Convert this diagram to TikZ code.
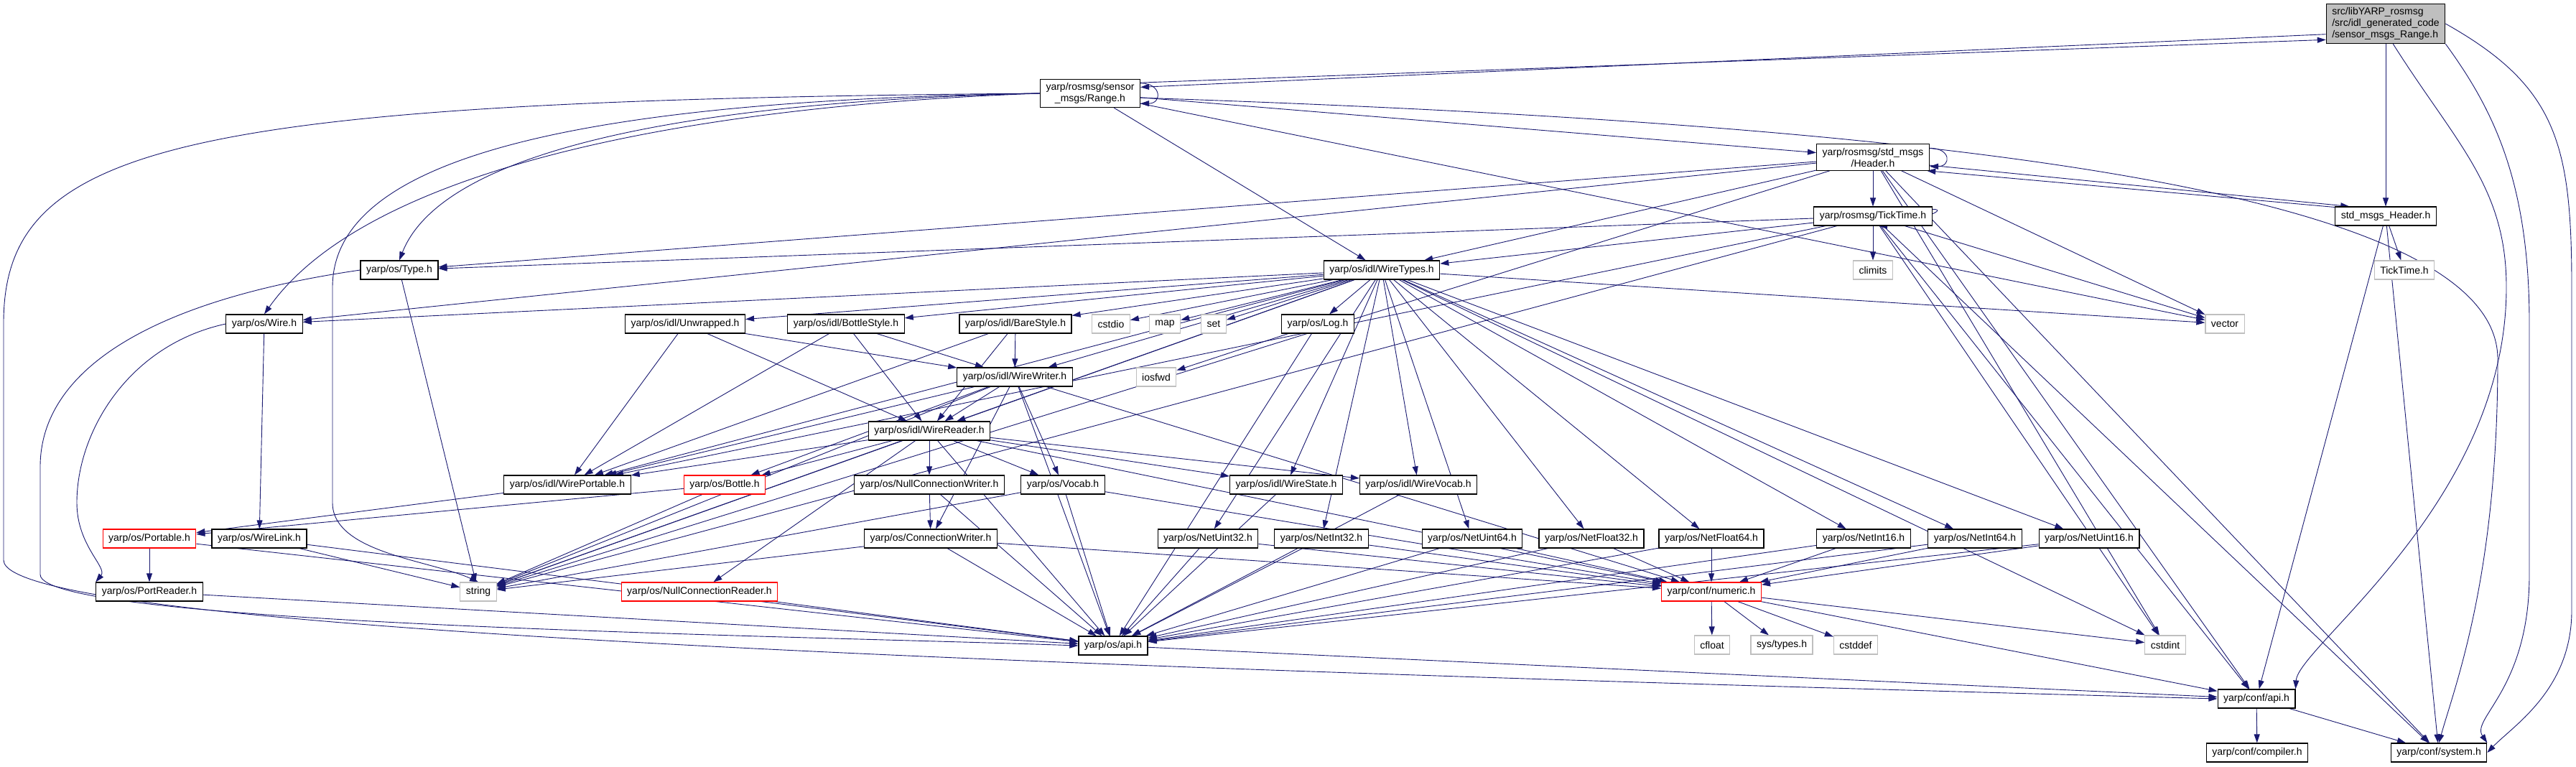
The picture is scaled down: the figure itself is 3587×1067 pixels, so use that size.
\documentclass[tikz,border=0pt]{standalone}
\usepackage{fontspec}
\setmainfont{Liberation Sans}
\usetikzlibrary{arrows.meta,backgrounds}
\definecolor{depblue}{HTML}{191970}
\definecolor{sysgray}{HTML}{BFBFBF}
\tikzset{
  file/.style={draw=black, fill=white, line width=0.6pt, inner xsep=4pt, inner ysep=2.5pt,
    minimum height=13pt, font=\fontsize{7}{8}\selectfont, align=center},
  sysfile/.style={file, draw=sysgray},
  cutfile/.style={file, draw=red},
  mainfile/.style={file, fill=sysgray, align=left},
  dep/.style={depblue, line width=0.45pt, -{Triangle[length=6pt,width=4pt]}},
}
\begin{document}
\begin{tikzpicture}[x=0.5pt, y=-0.5pt]
\useasboundingbox (0,0) rectangle (3587,1067);
% Files of the include graph
\node[mainfile] (main) at (3322,33) {src/libYARP\_rosmsg\\/src/idl\_generated\_code\\/sensor\_msgs\_Range.h};
\node[file] (range) at (1518,130) {yarp/rosmsg/sensor\\\_msgs/Range.h};
\node[file] (header) at (2608,219) {yarp/rosmsg/std\_msgs\\/Header.h};
\node[file] (ticktime) at (2608,301) {yarp/rosmsg/TickTime.h};
\node[file] (stdheader) at (3322,301) {std\_msgs\_Header.h};
\node[sysfile] (climits) at (2608,376) {climits};
\node[sysfile] (tickh) at (3348,376) {TickTime.h};
\node[file] (type) at (556,376) {yarp/os/Type.h};
\node[file] (wiretypes) at (1924,376) {yarp/os/idl/WireTypes.h};
\node[file] (wire) at (368,451) {yarp/os/Wire.h};
\node[file] (unwrapped) at (954,451) {yarp/os/idl/Unwrapped.h};
\node[file] (bottlestyle) at (1178,451) {yarp/os/idl/BottleStyle.h};
\node[file] (barestyle) at (1414,451) {yarp/os/idl/BareStyle.h};
\node[sysfile] (cstdio) at (1547,451) {cstdio};
\node[sysfile] (map) at (1622,451) {map};
\node[sysfile] (set) at (1690,451) {set};
\node[file] (log) at (1835,451) {yarp/os/Log.h};
\node[sysfile] (vector) at (3098,451) {vector};
\node[file] (writer) at (1413,525) {yarp/os/idl/WireWriter.h};
\node[sysfile] (iosfwd) at (1610,525) {iosfwd};
\node[file] (reader) at (1294,600) {yarp/os/idl/WireReader.h};
\node[file] (wireportable) at (790,675) {yarp/os/idl/WirePortable.h};
\node[cutfile] (bottle) at (1009,675) {yarp/os/Bottle.h};
\node[file] (nullwriter) at (1294,675) {yarp/os/NullConnectionWriter.h};
\node[file] (vocab) at (1480,675) {yarp/os/Vocab.h};
\node[file] (wirestate) at (1791,675) {yarp/os/idl/WireState.h};
\node[file] (wirevocab) at (1975,675) {yarp/os/idl/WireVocab.h};
\node[cutfile] (portable) at (208,750) {yarp/os/Portable.h};
\node[file] (wirelink) at (361,750) {yarp/os/WireLink.h};
\node[file] (connwriter) at (1296,750) {yarp/os/ConnectionWriter.h};
\node[file] (nuint32) at (1682,750) {yarp/os/NetUint32.h};
\node[file] (nint32) at (1840,750) {yarp/os/NetInt32.h};
\node[file] (nuint64) at (2050,750) {yarp/os/NetUint64.h};
\node[file] (nfloat32) at (2216,750) {yarp/os/NetFloat32.h};
\node[file] (nfloat64) at (2383,750) {yarp/os/NetFloat64.h};
\node[file] (nint16) at (2595,750) {yarp/os/NetInt16.h};
\node[file] (nint64) at (2750,750) {yarp/os/NetInt64.h};
\node[file] (nuint16) at (2909,750) {yarp/os/NetUint16.h};
\node[file] (portreader) at (208,824) {yarp/os/PortReader.h};
\node[sysfile] (string) at (666,824) {string};
\node[cutfile] (nullreader) at (974,824) {yarp/os/NullConnectionReader.h};
\node[cutfile] (numeric) at (2383,824) {yarp/conf/numeric.h};
\node[file] (osapi) at (1550,899) {yarp/os/api.h};
\node[sysfile] (cfloat) at (2384,898) {cfloat};
\node[sysfile] (systypes) at (2481,898) {sys/types.h};
\node[sysfile] (cstddef) at (2584,898) {cstddef};
\node[sysfile] (cstdint) at (3015,898) {cstdint};
\node[file] (confapi) at (3142,973) {yarp/conf/api.h};
\node[file] (compiler) at (3143,1048) {yarp/conf/compiler.h};
\node[file] (system) at (3396,1048) {yarp/conf/system.h};

\begin{scope}[on background layer]
% Top of the graph
\draw[dep] (range.12) -- (main.195);
\draw[dep] (main.190) -- (range.7);
\draw[dep] ([yshift=-3pt]range.north east) .. controls +(30,0) and +(30,0) .. ([yshift=3pt]range.south east);
\draw[dep] (main) -- (stdheader);
\draw[dep] (main.south east) .. controls (3470,150) and (3522,250) .. (3522,450) -- (3522,800) .. controls (3522,960) and (3440,1000) .. (system.north east);
\draw[dep] (main.-70) .. controls (3420,200) and (3490,260) .. (3490,400) .. controls (3490,700) and (3200,900) .. (confapi.north east);
\draw[dep] (main.east) .. controls (3560,120) and (3581,200) .. (3581,400) -- (3581,850) .. controls (3581,960) and (3500,1010) .. (system.east);
\foreach \dst in {header, wiretypes, vector}
  \draw[dep] (range) -- (\dst);
\draw[dep] (range.-5) .. controls (2600,170) and (3478,250) .. (3478,500) .. controls (3478,800) and (3420,950) .. (system.north);
\draw[dep] (range.west) .. controls (1000,140) and (620,200) .. (type.north);
\draw[dep] (range.west) .. controls (900,150) and (500,250) .. (wire.north);
\draw[dep] (range.west) .. controls (800,140) and (463,220) .. (463,400) -- (463,700) .. controls (463,770) and (600,780) .. (string.north);
\draw[dep] (range.west) .. controls (250,140) and (5,200) .. (5,450) -- (5,780) .. controls (5,880) and (1500,930) .. (confapi.west);
% Header.h and TickTime.h
\draw[dep] ([yshift=-3pt]header.north east) .. controls +(30,0) and +(30,0) .. ([yshift=3pt]header.south east);
\draw[dep] ([yshift=-2pt]ticktime.north east) .. controls +(30,0) and +(30,0) .. (ticktime.-60);
\draw[dep] (header.-8) -- (stdheader.165);
\draw[dep] (stdheader.170) -- (header.-14);
\foreach \dst in {ticktime, wiretypes, type, wire, string, vector, cstdint, confapi, system}
  \draw[dep] (header) -- (\dst);
\foreach \dst in {climits, type, wiretypes, wireportable, string, vector, cstdint, confapi, system}
  \draw[dep] (ticktime) -- (\dst);
\foreach \dst in {tickh, confapi, system}
  \draw[dep] (stdheader) -- (\dst);
% Type.h and Wire.h
\draw[dep] (type) -- (string);
\draw[dep] (type.west) .. controls (200,420) and (56,520) .. (56,650) -- (56,800) .. controls (56,870) and (1100,885) .. (osapi.west);
\draw[dep] (wire) -- (wirelink);
\draw[dep] (wire.west) .. controls (180,480) and (107,600) .. (107,700) .. controls (107,760) and (150,790) .. (portreader.north west);
% WireTypes.h fans out
\foreach \dst in {wire, unwrapped, bottlestyle, barestyle, cstdio, map, set, log, vector, writer, reader,
    wireportable, wirestate, wirevocab, string, cstdint, nuint32, nint32, nuint64, nfloat32, nfloat64,
    nint16, nint64, nuint16}
  \draw[dep] (wiretypes) -- (\dst);
% Styles, writer and reader
\foreach \src in {unwrapped, bottlestyle, barestyle}
  \foreach \dst in {wireportable, writer, reader}
    \draw[dep] (\src) -- (\dst);
\draw[dep] (log) -- (iosfwd);
\draw[dep] (log) -- (osapi);
\foreach \dst in {reader, wireportable, bottle, vocab, string, connwriter, osapi, numeric}
  \draw[dep] (writer) -- (\dst);
\foreach \dst in {wireportable, bottle, nullwriter, vocab, wirestate, wirevocab, nullreader, osapi, numeric, string}
  \draw[dep] (reader) -- (\dst);
% Lower files
\draw[dep] (wireportable) -- (portable);
\draw[dep] (bottle) -- (portable);
\draw[dep] (bottle) -- (string);
\draw[dep] (nullwriter) -- (connwriter);
\draw[dep] (nullwriter) -- (osapi);
\foreach \dst in {string, osapi, numeric}
  \draw[dep] (vocab) -- (\dst);
\draw[dep] (wirestate) -- (osapi);
\draw[dep] (wirevocab) -- (osapi);
\draw[dep] (portable) -- (portreader);
\draw[dep] (portable) -- (osapi);
\draw[dep] (wirelink) -- (string);
\draw[dep] (wirelink) -- (osapi);
\draw[dep] (portreader) -- (osapi);
\foreach \dst in {string, osapi, numeric}
  \draw[dep] (connwriter) -- (\dst);
\draw[dep] (nullreader) -- (osapi);
\foreach \src in {nuint32, nint32, nuint64, nfloat32, nfloat64, nint16, nint64, nuint16} {
  \draw[dep] (\src) -- (osapi);
  \draw[dep] (\src) -- (numeric);
}
\foreach \dst in {cfloat, systypes, cstddef, cstdint, confapi}
  \draw[dep] (numeric) -- (\dst);
\draw[dep] (osapi) -- (confapi);
\draw[dep] (confapi) -- (compiler);
\draw[dep] (confapi) -- (system);
\end{scope}
\end{tikzpicture}
\end{document}
